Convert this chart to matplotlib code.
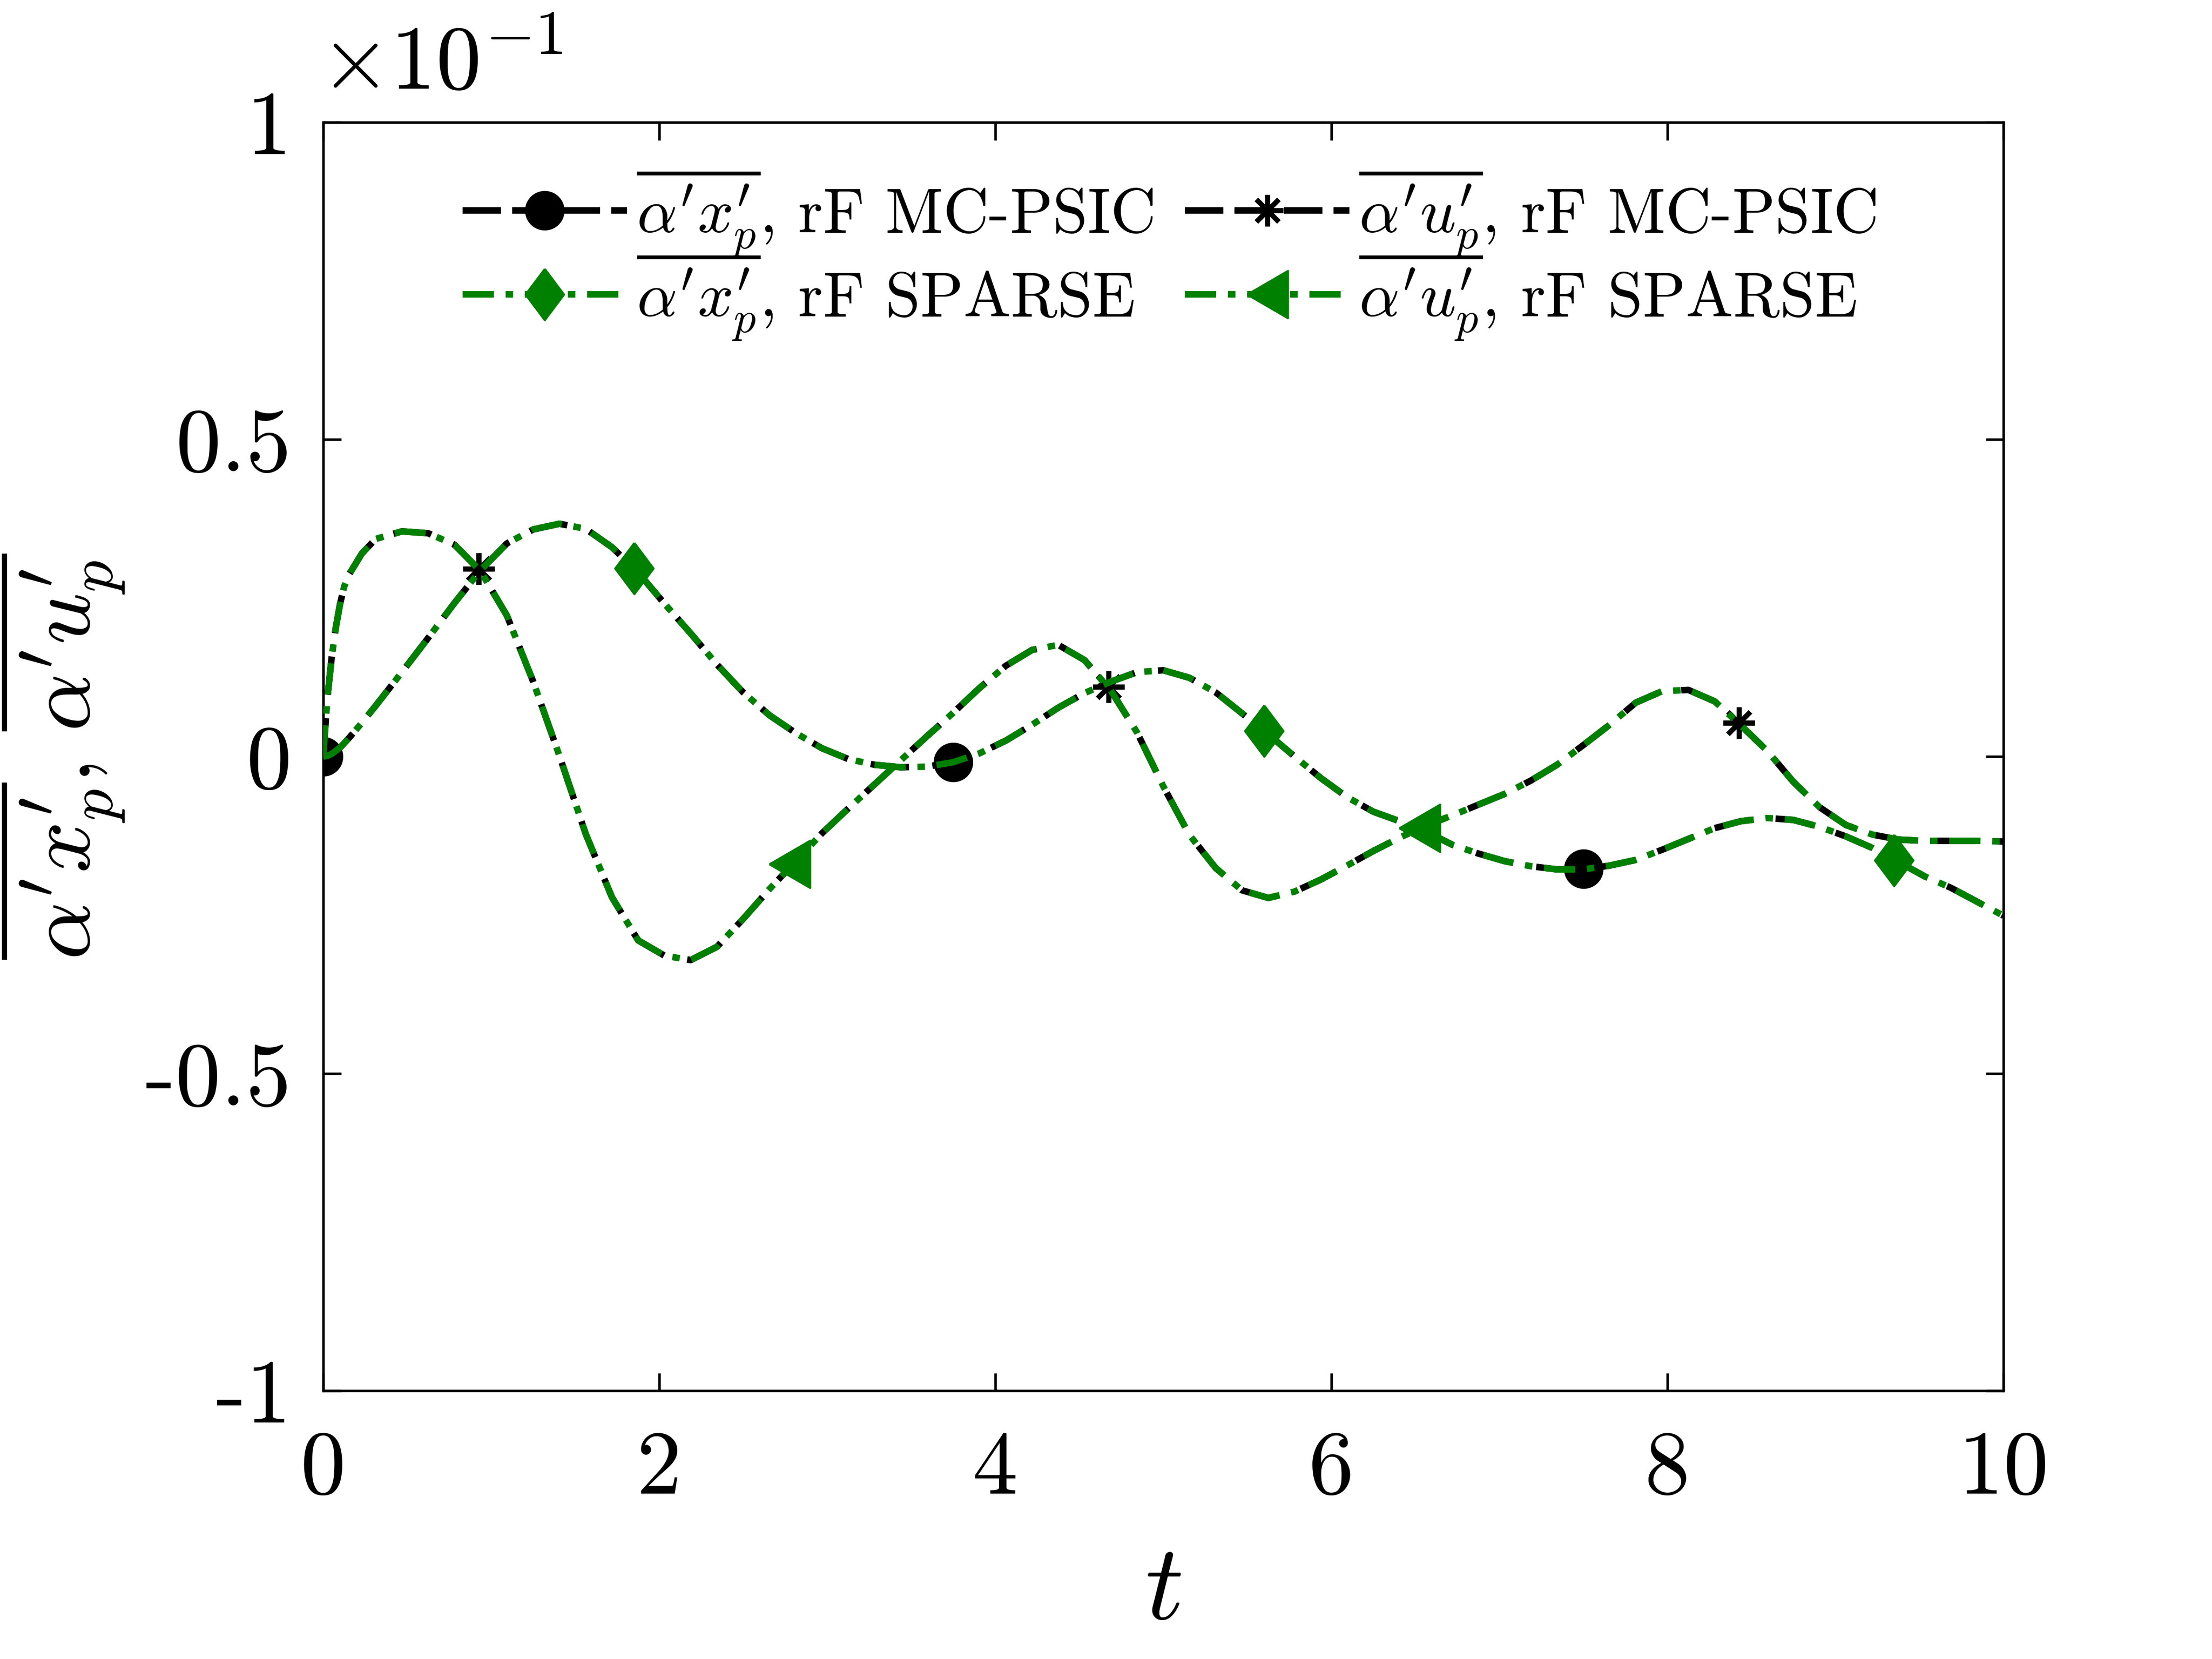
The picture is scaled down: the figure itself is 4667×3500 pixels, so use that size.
import numpy as np
import matplotlib
matplotlib.use('Agg')
import matplotlib.pyplot as plt
from matplotlib.lines import Line2D

plt.rcParams['font.family'] = 'serif'
plt.rcParams['font.serif'] = ['cmr10', 'DejaVu Serif']
plt.rcParams['mathtext.fontset'] = 'cm'
plt.rcParams['axes.unicode_minus'] = False

# time axis (finer at the start where the velocity curve rises fast)
t = np.concatenate([[0.0, 0.025, 0.05, 0.075, 0.1, 0.125, 0.15625, 0.23],
                    np.arange(2, 65) * 0.15625])

# alpha'x_p' (units of 1e-1)
xp_mc = [0.0, 0.001, 0.004, 0.009, 0.014, 0.021, 0.030, 0.053,
         0.080, 0.133, 0.187, 0.242, 0.294, 0.336, 0.358, 0.367, 0.359, 0.330,
         0.290, 0.241, 0.194, 0.145, 0.101, 0.065, 0.037, 0.013, -0.004, -0.013,
         -0.017, -0.016, -0.009, 0.005, 0.025, 0.050, 0.077, 0.100, 0.118, 0.133,
         0.136, 0.124, 0.101, 0.068, 0.035, 0.000, -0.034, -0.064, -0.087, -0.102,
         -0.118, -0.139, -0.153, -0.165, -0.173, -0.178, -0.178, -0.172, -0.163, -0.147,
         -0.130, -0.113, -0.102, -0.097, -0.100, -0.111, -0.126, -0.144, -0.166, -0.189,
         -0.207, -0.229, -0.251]

# alpha'u_p'
up_mc = [0.0, 0.092, 0.155, 0.203, 0.240, 0.268, 0.288, 0.320,
         0.343, 0.355, 0.352, 0.334, 0.292, 0.222, 0.118, 0.001, -0.122, -0.222,
         -0.290, -0.314, -0.321, -0.300, -0.256, -0.209, -0.165, -0.121, -0.082, -0.044,
         -0.006, 0.032, 0.069, 0.108, 0.143, 0.168, 0.176, 0.152, 0.104, 0.038,
         -0.047, -0.124, -0.176, -0.211, -0.223, -0.213, -0.194, -0.172, -0.149, -0.128,
         -0.109, -0.093, -0.076, -0.059, -0.038, -0.013, 0.018, 0.050, 0.085, 0.103,
         0.105, 0.087, 0.049, 0.009, -0.040, -0.080, -0.108, -0.123, -0.131, -0.133,
         -0.133, -0.133, -0.134]

# SPARSE results lie on top of the MC-PSIC ones
xp_sparse = list(xp_mc)
up_sparse = list(up_mc)

# marker samples
t_circ = [0.0, 3.75, 7.5]
y_circ = [0.0, -0.009, -0.177]
t_star = [0.925, 4.675, 8.425]
y_star = [0.296, 0.110, 0.053]
t_diam = [1.85, 5.6, 9.35]
y_diam = [0.297, 0.040, -0.164]
t_tri = [2.775, 6.525]
y_tri = [-0.170, -0.113]

labels = [r'$\overline{\alpha^\prime x_p^\prime}$, rF MC-PSIC',
          r'$\overline{\alpha^\prime x_p^\prime}$, rF SPARSE',
          r'$\overline{\alpha^\prime u_p^\prime}$, rF MC-PSIC',
          r'$\overline{\alpha^\prime u_p^\prime}$, rF SPARSE']

GREEN = '#008000'
LW = 3.3
# same period for both patterns so the black dash just peeks out after each green dash
DASH = (0, (5.9, 3.6))
DASHDOT = (0, (4.8, 1.8, 1.15, 1.8))
DASH_LEG = (0, (5.9, 1.7))
DIAMOND = [(0, 1), (0.75, 0), (0, -1), (-0.75, 0), (0, 1)]
TRI_LEFT = [(-0.86, 0), (0.86, 1), (0.86, -1), (-0.86, 0)]
STAR = (8, 2, 0)

fig = plt.figure(figsize=(4667 / 300, 3500 / 300), dpi=300)
ax = fig.add_axes([0.1461, 0.1617, 0.7596, 0.7646])

# MC-PSIC (black dashed)
ax.plot(t, xp_mc, color='k', lw=LW, ls=DASH, zorder=2)
ax.plot(t, up_mc, color='k', lw=LW, ls=DASH, zorder=2)
ax.plot(t_circ, y_circ, ls='none', marker='o', ms=19, color='k', zorder=2.5)
ax.plot(t_star, y_star, ls='none', marker=STAR, ms=16, mew=2.5, color='k', zorder=2.5)

# SPARSE (green dash-dot)
ax.plot(t, xp_sparse, color=GREEN, lw=LW, ls=DASHDOT, zorder=3)
ax.plot(t_diam, y_diam, ls='none', marker=DIAMOND, ms=26, color=GREEN, zorder=3.5)
ax.plot(t, up_sparse, color=GREEN, lw=LW, ls=DASHDOT, zorder=4)
ax.plot(t_tri, y_tri, ls='none', marker=TRI_LEFT, ms=24, color=GREEN, zorder=4.5)

ax.set_xlim(0, 10)
ax.set_ylim(-1, 1)
ax.set_xticks([0, 2, 4, 6, 8, 10])
ax.set_xticklabels(['0', '2', '4', '6', '8', '10'])
ax.set_yticks([-1, -0.5, 0, 0.5, 1])
ax.set_yticklabels(['-1', '-0.5', '0', '0.5', '1'])
ax.tick_params(direction='in', length=9, width=1.3, labelsize=46,
               top=True, right=True)
ax.tick_params(axis='x', pad=20)
ax.tick_params(axis='y', pad=16)
for s in ax.spines.values():
    s.set_linewidth(1.3)

ax.set_xlabel(r'$t$', fontsize=54, labelpad=17)
ax.set_ylabel(r'$\overline{\alpha^\prime x_p^\prime}{,}\ \overline{\alpha^\prime u_p^\prime}$',
              fontsize=46)
ax.yaxis.set_label_coords(-0.117, 0.5)
ax.text(-0.002, 1.026, r'$\times10^{-1}$', transform=ax.transAxes,
        fontsize=46, ha='left', va='baseline')

# legend proxies
handles = [
    Line2D([], [], color='k', lw=LW, ls=DASH_LEG, marker='o', ms=19),
    Line2D([], [], color=GREEN, lw=LW, ls=DASHDOT, marker=DIAMOND, ms=26),
    Line2D([], [], color='k', lw=LW, ls=DASH_LEG, marker=STAR, ms=16, mew=2.5),
    Line2D([], [], color=GREEN, lw=LW, ls=DASHDOT, marker=TRI_LEFT, ms=24),
]
ax.legend(handles, labels, ncol=2, frameon=False, fontsize=32,
          loc='upper left', bbox_to_anchor=(0.083, 0.965),
          borderpad=0, borderaxespad=0, handlelength=2.6, handletextpad=0.15,
          columnspacing=0.5, labelspacing=-0.12)

fig.savefig('out.png', dpi=300, facecolor='white')
